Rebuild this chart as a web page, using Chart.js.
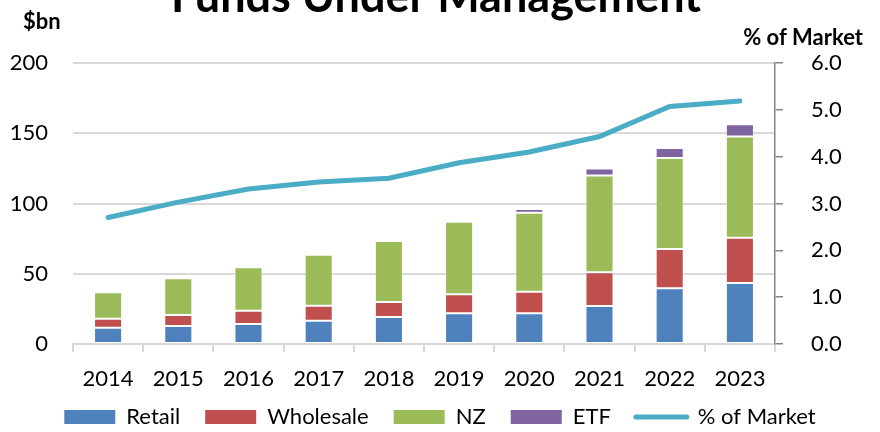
<!DOCTYPE html>
<html>
<head>
<meta charset="utf-8">
<script src="https://cdn.jsdelivr.net/npm/chart.js@4"></script>
<style>
  html, body { margin: 0; padding: 0; background: #fff; }
  #wrap { width: 880px; height: 432px; }
</style>
</head>
<body>
<div id="wrap"><canvas id="fumChart"></canvas></div>
<script>
const years = ['2014', '2015', '2016', '2017', '2018', '2019', '2020', '2021', '2022', '2023'];
const retail = [11.6, 12.8, 14.2, 16.6, 19.2, 21.8, 21.8, 27.0, 39.6, 43.4];
const wholesale = [6.4, 7.8, 9.5, 10.7, 10.7, 13.6, 15.4, 24.0, 28.0, 32.3];
const nz = [18.8, 26.2, 30.9, 36.3, 43.4, 51.6, 56.3, 69.0, 64.8, 71.9];
const etf = [0.3, 0.4, 0.4, 0.4, 0.7, 1.3, 2.5, 5.0, 7.1, 8.8];
const pctOfMarket = [2.70, 3.03, 3.31, 3.46, 3.54, 3.87, 4.10, 4.43, 5.07, 5.19];

const FONT = 'Lato, "Open Sans", sans-serif';

// title and axis captions sit outside the chart area, drawn by hand
const captions = {
    id: 'captions',
    afterLayout(chart) {
        // legend padding also sets its top gap; pull it up a bit
        chart.legend.top -= 11;
        chart.legend.bottom -= 11;
    },
    afterDraw(chart) {
        const c = chart.ctx;
        c.save();
        c.fillStyle = '#000';
        c.textBaseline = 'alphabetic';
        c.font = 'bold 45px ' + FONT;
        c.textAlign = 'center';
        c.fillText('Funds Under Management', 436, 12);
        c.font = 'bold 22px ' + FONT;
        c.textAlign = 'left';
        c.fillText('$bn', 23, 29);
        c.textAlign = 'right';
        c.fillText('% of Market', 863, 45);
        c.restore();
    }
};

function bar(label, data, color) {
    return {
        type: 'bar',
        label: label,
        data: data,
        backgroundColor: color,
        borderColor: 'rgba(255,255,255,0.45)',
        borderWidth: 1,
        borderSkipped: false,
        stack: 'fum',
        yAxisID: 'y',
        order: 1,
        barPercentage: 0.4,
        categoryPercentage: 1.0
    };
}

new Chart(document.getElementById('fumChart'), {
    data: {
        labels: years,
        datasets: [
            bar('Retail', retail, '#4F81BD'),
            bar('Wholesale', wholesale, '#C0504D'),
            bar('NZ', nz, '#9BBB59'),
            bar('ETF', etf, '#8064A2'),
            {
                type: 'line',
                label: '% of Market',
                data: pctOfMarket,
                borderColor: '#4BACC6',
                backgroundColor: '#4BACC6',
                borderWidth: 5,
                borderCapStyle: 'round',
                pointRadius: 0,
                tension: 0,
                yAxisID: 'y1',
                order: 0
            }
        ]
    },
    options: {
        responsive: true,
        maintainAspectRatio: false,
        animation: false,
        layout: { padding: { top: 63, left: 0, right: 0, bottom: -17 } },
        plugins: {
            title: { display: false },
            tooltip: { enabled: false },
            legend: {
                position: 'bottom',
                labels: {
                    usePointStyle: true,
                    pointStyleWidth: 51,
                    boxHeight: 14,
                    padding: 25,
                    color: '#000',
                    font: { family: FONT, size: 22 },
                    generateLabels: chart => chart.data.datasets.map((ds, i) => ({
                        text: ds.label,
                        fillStyle: ds.type === 'line' ? ds.borderColor : ds.backgroundColor,
                        strokeStyle: ds.type === 'line' ? ds.borderColor : ds.backgroundColor,
                        lineWidth: ds.type === 'line' ? 5 : 0,
                        lineCap: 'round',
                        pointStyle: ds.type === 'line' ? 'line' : 'rect',
                        fontColor: '#000',
                        hidden: false,
                        datasetIndex: i
                    }))
                }
            }
        },
        scales: {
            x: {
                stacked: true,
                offset: true,
                grid: {
                    offset: true,
                    drawOnChartArea: false,
                    drawTicks: true,
                    tickLength: 8,
                    color: '#d9d9d9',
                    lineWidth: 2
                },
                border: { color: '#d9d9d9', width: 2 },
                ticks: { color: '#000', padding: 14, font: { family: FONT, size: 22 } },
                afterFit(scale) { scale.height = 48; }
            },
            y: {
                stacked: true,
                position: 'left',
                min: 0,
                max: 200,
                ticks: { stepSize: 50, color: '#000', padding: 25, font: { family: FONT, size: 22 } },
                grid: { color: '#d9d9d9', lineWidth: 2, drawTicks: false },
                border: { display: false },
                afterFit(scale) { scale.width = 73; }
            },
            y1: {
                position: 'right',
                min: 0,
                max: 6,
                ticks: {
                    stepSize: 1,
                    color: '#000',
                    padding: 28,
                    font: { family: FONT, size: 22 },
                    callback: v => v.toFixed(1)
                },
                grid: { drawOnChartArea: false, drawTicks: true, tickLength: 8, color: '#868686', lineWidth: 1.5 },
                border: { color: '#868686', width: 1.5 },
                afterFit(scale) { scale.width = 105; }
            }
        }
    },
    plugins: [captions]
});
</script>
</body>
</html>
